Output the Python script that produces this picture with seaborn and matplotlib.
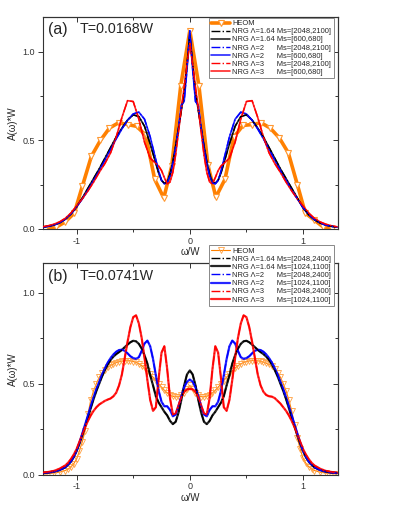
import numpy as np
import matplotlib
matplotlib.use("Agg")
import matplotlib.pyplot as plt
from matplotlib.ticker import MultipleLocator, FormatStrFormatter
import seaborn as sns

sns.set_style("ticks")
plt.rcParams['font.family'] = ['Liberation Sans', 'DejaVu Sans']
plt.rcParams['axes.unicode_minus'] = False

ORANGE = '#FF8000'

# ---------------- panel (a), T=0.0168W ----------------
x_a = np.round(np.concatenate([np.linspace(-1.3, -0.3, 21),
                               np.linspace(-0.275, 0.275, 23),
                               np.linspace(0.3, 1.3, 21)]), 3)

nrg164_a = [0.01, 0.015, 0.022, 0.035, 0.055, 0.085, 0.125, 0.175, 0.23, 0.285, 0.34,
            0.40, 0.46, 0.52, 0.57, 0.615, 0.645, 0.635, 0.58, 0.48, 0.37,
            0.315, 0.275, 0.258, 0.265, 0.31, 0.38, 0.47, 0.57, 0.67, 0.77, 0.93,
            1.10,
            0.93, 0.77, 0.67, 0.57, 0.47, 0.38, 0.31, 0.265, 0.258, 0.275, 0.315,
            0.37, 0.48, 0.58, 0.635, 0.645, 0.615, 0.57, 0.52, 0.46, 0.40,
            0.34, 0.285, 0.23, 0.175, 0.12, 0.08, 0.052, 0.034, 0.022, 0.015, 0.01]

nrg2_a = [0.01, 0.015, 0.022, 0.035, 0.055, 0.085, 0.125, 0.17, 0.22, 0.275, 0.33,
          0.39, 0.45, 0.51, 0.565, 0.615, 0.65, 0.66, 0.62, 0.52, 0.39,
          0.325, 0.275, 0.255, 0.26, 0.30, 0.37, 0.46, 0.57, 0.70, 0.72, 0.90,
          1.12,
          0.90, 0.72, 0.70, 0.57, 0.46, 0.37, 0.30, 0.26, 0.255, 0.275, 0.325,
          0.39, 0.52, 0.62, 0.66, 0.65, 0.615, 0.565, 0.51, 0.45, 0.39,
          0.33, 0.275, 0.22, 0.17, 0.12, 0.082, 0.053, 0.034, 0.022, 0.015, 0.01]

nrg3_a = [0.012, 0.018, 0.027, 0.04, 0.06, 0.09, 0.13, 0.17, 0.215, 0.265, 0.32,
          0.37, 0.43, 0.52, 0.63, 0.725, 0.72, 0.62, 0.49, 0.40, 0.37,
          0.355, 0.33, 0.29, 0.255, 0.265, 0.32, 0.42, 0.55, 0.68, 0.80, 0.93,
          1.05,
          0.93, 0.80, 0.68, 0.55, 0.42, 0.32, 0.265, 0.255, 0.29, 0.33, 0.355,
          0.37, 0.40, 0.49, 0.62, 0.72, 0.725, 0.63, 0.52, 0.43, 0.37,
          0.32, 0.265, 0.215, 0.17, 0.13, 0.09, 0.06, 0.04, 0.027, 0.018, 0.012]

heom_x_a = [-1.28, -1.18, -1.1, -1.02, -0.95, -0.87, -0.79, -0.71, -0.63, -0.55, -0.47,
            -0.39, -0.31, -0.23, -0.16, -0.08, 0.0, 0.08, 0.16, 0.23, 0.31, 0.39,
            0.47, 0.55, 0.63, 0.71, 0.79, 0.87, 0.95, 1.02, 1.1, 1.18, 1.26]
heom_a = [0.0, 0.01, 0.04, 0.09, 0.24, 0.41, 0.50, 0.57, 0.60, 0.59, 0.58,
          0.53, 0.28, 0.175, 0.355, 0.81, 1.12, 0.81, 0.36, 0.18, 0.28, 0.52,
          0.585, 0.59, 0.60, 0.57, 0.515, 0.43, 0.25, 0.09, 0.05, 0.01, 0.0]

# ---------------- panel (b), T=0.0741W ----------------
x_b = np.round(np.concatenate([np.linspace(-1.3, -1.15, 4),
                               np.linspace(-1.1, 1.1, 89),
                               np.linspace(1.15, 1.3, 4)]), 3)

heom_b = [0.003, 0.005, 0.008, 0.013,
          0.022, 0.03, 0.042, 0.06, 0.085, 0.13, 0.18, 0.24, 0.33, 0.41,
          0.46, 0.50, 0.535, 0.558, 0.575, 0.59, 0.60, 0.608, 0.615, 0.62,
          0.623, 0.625, 0.626, 0.625, 0.621, 0.616, 0.608, 0.598, 0.585, 0.57,
          0.553, 0.535, 0.516, 0.497, 0.48, 0.463, 0.449, 0.437, 0.43, 0.427,
          0.428, 0.435, 0.448, 0.468,
          0.49,
          0.468, 0.448, 0.435, 0.428, 0.427, 0.43, 0.437, 0.449, 0.463, 0.48,
          0.497, 0.516, 0.535, 0.553, 0.57, 0.585, 0.598, 0.608, 0.616, 0.621,
          0.624, 0.626, 0.626, 0.625, 0.622, 0.618, 0.612, 0.605, 0.595, 0.58,
          0.56, 0.535, 0.50, 0.46, 0.41, 0.35, 0.27, 0.20, 0.14, 0.09,
          0.062, 0.043, 0.031, 0.022,
          0.013, 0.008, 0.005, 0.003]

nrg164_b = [0.008, 0.011, 0.016, 0.025,
            0.04, 0.055, 0.072, 0.097, 0.13, 0.17, 0.215, 0.265, 0.315, 0.365,
            0.415, 0.46, 0.50, 0.54, 0.575, 0.605, 0.63, 0.648, 0.662, 0.673,
            0.685, 0.70, 0.714, 0.727, 0.735, 0.732, 0.718, 0.692, 0.655, 0.61,
            0.545, 0.49, 0.43, 0.395, 0.37, 0.345, 0.325, 0.295, 0.277, 0.29,
            0.34, 0.41, 0.49, 0.55,
            0.572,
            0.55, 0.49, 0.41, 0.34, 0.29, 0.277, 0.295, 0.325, 0.345, 0.37,
            0.395, 0.43, 0.49, 0.545, 0.61, 0.655, 0.692, 0.718, 0.732, 0.735,
            0.727, 0.714, 0.70, 0.685, 0.673, 0.662, 0.648, 0.63, 0.605, 0.575,
            0.54, 0.50, 0.46, 0.415, 0.365, 0.315, 0.265, 0.215, 0.17, 0.13,
            0.097, 0.072, 0.055, 0.04,
            0.025, 0.016, 0.011, 0.008]

nrg2_b = [0.008, 0.011, 0.016, 0.025,
          0.04, 0.055, 0.072, 0.097, 0.13, 0.175, 0.225, 0.275, 0.325, 0.375,
          0.425, 0.47, 0.51, 0.55, 0.585, 0.615, 0.64, 0.66, 0.675, 0.684,
          0.686, 0.68, 0.666, 0.65, 0.64, 0.636, 0.645, 0.68, 0.72, 0.736,
          0.705, 0.635, 0.545, 0.46, 0.40, 0.375, 0.375, 0.355, 0.32, 0.33,
          0.375, 0.43, 0.48, 0.51,
          0.522,
          0.51, 0.48, 0.43, 0.375, 0.33, 0.32, 0.355, 0.375, 0.375, 0.40,
          0.46, 0.545, 0.635, 0.705, 0.736, 0.72, 0.68, 0.645, 0.636, 0.64,
          0.65, 0.666, 0.68, 0.686, 0.684, 0.675, 0.66, 0.64, 0.615, 0.585,
          0.55, 0.51, 0.47, 0.425, 0.375, 0.325, 0.275, 0.225, 0.175, 0.13,
          0.097, 0.072, 0.055, 0.04,
          0.025, 0.016, 0.011, 0.008]

nrg3_b = [0.01, 0.014, 0.02, 0.032,
          0.05, 0.065, 0.085, 0.11, 0.14, 0.18, 0.22, 0.26, 0.295, 0.325,
          0.35, 0.37, 0.385, 0.395, 0.405, 0.412, 0.418, 0.43, 0.45, 0.49,
          0.55, 0.64, 0.73, 0.81, 0.865, 0.875, 0.83, 0.75, 0.64, 0.52,
          0.41, 0.35, 0.37, 0.53, 0.67, 0.705, 0.58, 0.42, 0.33, 0.335,
          0.38, 0.425, 0.455, 0.468,
          0.47,
          0.468, 0.455, 0.425, 0.38, 0.335, 0.33, 0.42, 0.58, 0.705, 0.67,
          0.53, 0.37, 0.35, 0.41, 0.52, 0.64, 0.75, 0.83, 0.875, 0.865,
          0.81, 0.73, 0.64, 0.55, 0.49, 0.455, 0.437, 0.43, 0.428, 0.42,
          0.405, 0.39, 0.37, 0.35, 0.325, 0.295, 0.26, 0.22, 0.18, 0.14,
          0.11, 0.085, 0.065, 0.05,
          0.032, 0.02, 0.014, 0.01]

for arr in (nrg164_a, nrg2_a, nrg3_a):
    assert len(arr) == len(x_a), len(arr)
for arr in (heom_b, nrg164_b, nrg2_b, nrg3_b):
    assert len(arr) == len(x_b), len(arr)

labels_a = ["NRG \u039b=1.64 Ms=[2048,2100]", "NRG \u039b=1.64 Ms=[600,680]",
            "NRG \u039b=2      Ms=[2048,2100]", "NRG \u039b=2      Ms=[600,680]",
            "NRG \u039b=3      Ms=[2048,2100]", "NRG \u039b=3      Ms=[600,680]"]
labels_b = ["NRG \u039b=1.64 Ms=[2048,2400]", "NRG \u039b=1.64 Ms=[1024,1100]",
            "NRG \u039b=2      Ms=[2048,2400]", "NRG \u039b=2      Ms=[1024,1100]",
            "NRG \u039b=3      Ms=[2048,2400]", "NRG \u039b=3      Ms=[1024,1100]"]


def draw_nrg(ax, x, series, labels, lw_solid):
    colors = ['black', 'blue', 'red']
    for i, y in enumerate(series):
        c = colors[i]
        sns.lineplot(x=x, y=y, ax=ax, color=c, lw=1.0, linestyle='-.',
                     label=labels[2 * i], zorder=4)
        sns.lineplot(x=x, y=y, ax=ax, color=c, lw=lw_solid, linestyle='-',
                     alpha=0.85, label=labels[2 * i + 1], zorder=3)


def style_axes(ax, ytop, tag, temp):
    ax.set_xlim(-1.3, 1.31)
    ax.set_ylim(0, ytop)
    ax.xaxis.set_major_locator(MultipleLocator(1))
    ax.xaxis.set_minor_locator(MultipleLocator(0.5))
    ax.yaxis.set_major_locator(MultipleLocator(0.5))
    ax.yaxis.set_minor_locator(MultipleLocator(0.25))
    ax.yaxis.set_major_formatter(FormatStrFormatter('%.1f'))
    ax.tick_params(which='both', direction='out', labelsize=6.5, width=0.7,
                   colors='#333333', pad=2)
    ax.tick_params(which='major', length=3.5)
    ax.tick_params(which='minor', length=2)
    for s in ax.spines.values():
        s.set_linewidth(0.8)
        s.set_color('#333333')
    top = ax.secondary_xaxis('top')
    top.xaxis.set_major_locator(MultipleLocator(1))
    top.xaxis.set_minor_locator(MultipleLocator(0.5))
    top.tick_params(which='both', direction='in', labeltop=False, width=0.7,
                    colors='#333333')
    top.tick_params(which='major', length=3.5)
    top.tick_params(which='minor', length=2)
    right = ax.secondary_yaxis('right')
    right.yaxis.set_major_locator(MultipleLocator(0.5))
    right.yaxis.set_minor_locator(MultipleLocator(0.25))
    right.tick_params(which='both', direction='in', labelright=False, width=0.7,
                      colors='#333333')
    right.tick_params(which='major', length=3.5)
    right.tick_params(which='minor', length=2)
    ax.set_xlabel("\u03c9/W", fontsize=7, labelpad=1)
    ax.set_ylabel("A(\u03c9)*W", fontsize=7, labelpad=3)
    ax.text(0.017, 0.94, tag, transform=ax.transAxes, fontsize=11.5, va='center')
    ax.text(0.125, 0.94, temp, transform=ax.transAxes, fontsize=10.3, va='center')


fig = plt.figure(figsize=(3.95, 5.11), dpi=100)
ax1 = fig.add_axes([0.108, 0.552, 0.748, 0.4155])
ax2 = fig.add_axes([0.108, 0.0714, 0.748, 0.413])

# (a)
sns.lineplot(x=heom_x_a, y=heom_a, ax=ax1, color=ORANGE, lw=2.6, marker='v',
             markersize=5, markerfacecolor='white', markeredgecolor='#FF9933',
             markeredgewidth=0.8, label="HEOM", zorder=2)
draw_nrg(ax1, x_a, [nrg164_a, nrg2_a, nrg3_a], labels_a, 1.2)
style_axes(ax1, 1.2, "(a)", "T=0.0168W")

# (b)
sns.lineplot(x=x_b, y=heom_b, ax=ax2, color=ORANGE, lw=0.8, marker='v',
             markersize=4.5, markerfacecolor='none', markeredgecolor='#FFA040',
             markeredgewidth=0.6, label="HEOM", zorder=2)
draw_nrg(ax2, x_b, [nrg164_b, nrg2_b, nrg3_b], labels_b, 1.6)
style_axes(ax2, 1.16, "(b)", "T=0.0741W")

for ax, anchor in ((ax1, (0.985, 0.995)), (ax2, (0.985, 1.087))):
    leg = ax.legend(loc='upper right', bbox_to_anchor=anchor, fontsize=5.4,
                    frameon=True, fancybox=False, framealpha=1,
                    edgecolor='#888888', handlelength=2.5, handletextpad=0.3,
                    labelspacing=0.12, borderpad=0.3, borderaxespad=0)
    leg.get_frame().set_linewidth(0.7)
    leg.set_zorder(10)

fig.savefig("out.png", dpi=100)
